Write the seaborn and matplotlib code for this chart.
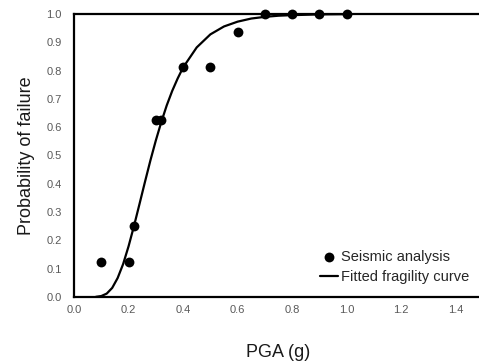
import matplotlib
matplotlib.use("Agg")
import matplotlib.pyplot as plt
import seaborn as sns
import pandas as pd

# Seismic analysis points
pga_points = [0.10, 0.20, 0.22, 0.30, 0.32, 0.40, 0.50, 0.60, 0.70, 0.80, 0.90, 1.00]
prob_points = [0.125, 0.125, 0.25, 0.625, 0.625, 0.8125, 0.8125, 0.9375, 1.0, 1.0, 1.0, 1.0]

# Fitted fragility curve
pga_curve = [0.08, 0.10, 0.12, 0.14, 0.16, 0.18, 0.20, 0.22, 0.24, 0.26, 0.28, 0.30,
             0.32, 0.34, 0.36, 0.38, 0.40, 0.45, 0.50, 0.55, 0.60, 0.65, 0.70, 0.75,
             0.80, 0.90, 1.00]
prob_curve = [0.0005, 0.0033, 0.012, 0.032, 0.067, 0.116, 0.179, 0.251, 0.328, 0.406,
              0.482, 0.553, 0.618, 0.677, 0.728, 0.772, 0.811, 0.882, 0.928, 0.956,
              0.973, 0.984, 0.990, 0.994, 0.996, 0.9986, 0.9994]

x_ticks = [0.0, 0.2, 0.4, 0.6, 0.8, 1.0, 1.2, 1.4]
y_ticks = [0.0, 0.1, 0.2, 0.3, 0.4, 0.5, 0.6, 0.7, 0.8, 0.9, 1.0]

sns.set_theme(style="white")
plt.rcParams['font.family'] = ['Liberation Sans', 'DejaVu Sans']

fig = plt.figure(figsize=(4.79, 3.62), dpi=100)
ax = fig.add_axes([0.1545, 0.1796, 0.854, 0.7817])

df_pts = pd.DataFrame({"PGA": pga_points, "P": prob_points})
df_cur = pd.DataFrame({"PGA": pga_curve, "P": prob_curve})

sns.lineplot(data=df_cur, x="PGA", y="P", ax=ax, color="black", linewidth=1.6,
             label="Fitted fragility curve", clip_on=False, zorder=3)
sns.scatterplot(data=df_pts, x="PGA", y="P", ax=ax, color="black", s=50,
                marker="o", edgecolor="black", linewidth=0,
                label="Seismic analysis", clip_on=False, zorder=4)

ax.set_xlim(0, 1.5)
ax.set_ylim(0, 1.0)
ax.set_xticks(x_ticks)
ax.set_xticklabels([f"{v:.1f}" for v in x_ticks])
ax.set_yticks(y_ticks)
ax.set_yticklabels([f"{v:.1f}" for v in y_ticks])
ax.tick_params(axis="x", direction="in", length=3, width=0.8, color="#808080",
               labelsize=8, labelcolor="#595959", pad=6)
ax.tick_params(axis="y", direction="in", length=3, width=0.8, color="#808080",
               labelsize=8, labelcolor="#595959", pad=9)

for side in ["left", "bottom", "top"]:
    ax.spines[side].set_visible(True)
    ax.spines[side].set_color("black")
    ax.spines[side].set_linewidth(1.6)
ax.spines["right"].set_visible(False)

ax.set_xlabel("PGA (g)", fontsize=13, color="#1a1a1a", labelpad=21)
ax.set_ylabel("Probability of failure", fontsize=13, color="#1a1a1a", labelpad=8)

handles, labels = ax.get_legend_handles_labels()
order = [labels.index("Seismic analysis"), labels.index("Fitted fragility curve")]
leg = ax.legend([handles[i] for i in order], [labels[i] for i in order],
                loc="lower right", bbox_to_anchor=(0.966, 0.045), frameon=False,
                fontsize=10.5, handlelength=1.24, handletextpad=0.2, labelspacing=0.45,
                borderaxespad=0, borderpad=0)

fig.savefig("out.png", dpi=100)
